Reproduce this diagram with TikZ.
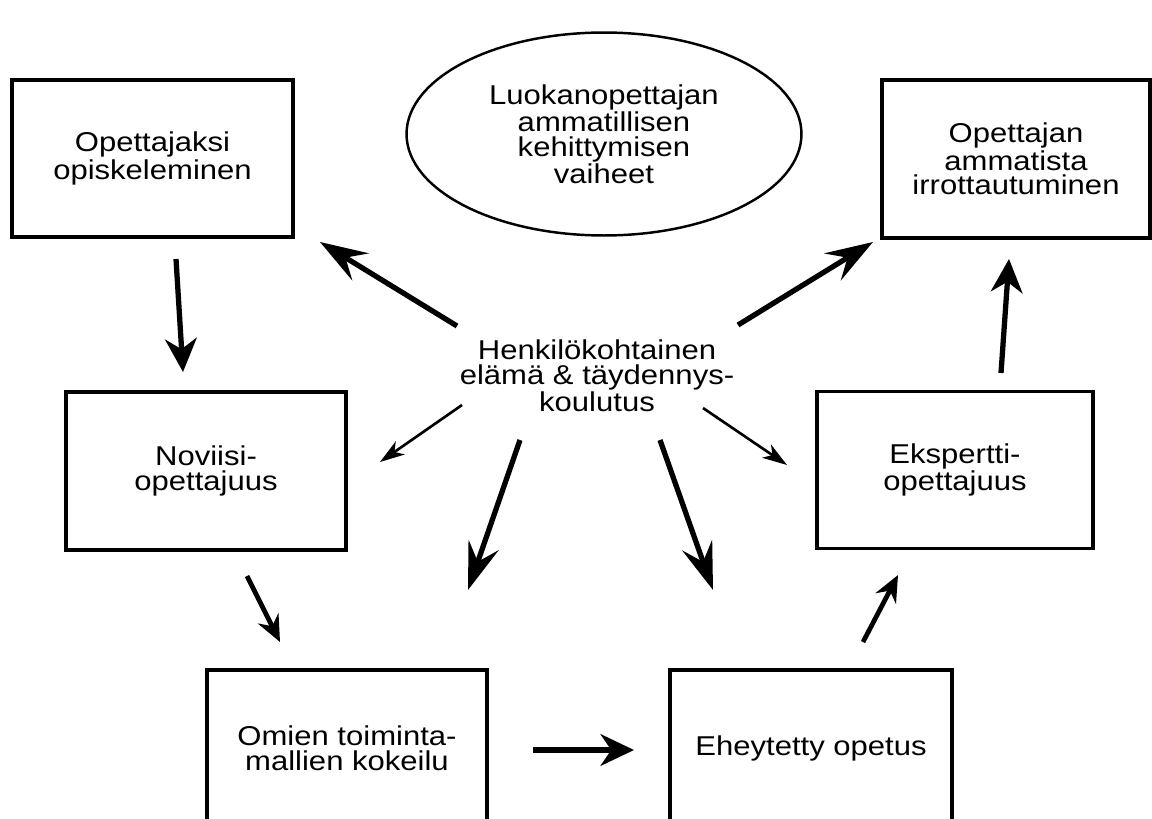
\documentclass[tikz,border=0pt]{standalone}
\usepackage{fontspec}
\setmainfont{Liberation Sans}[FakeStretch=1.14]
\usetikzlibrary{arrows.meta,shapes.geometric}

\tikzset{
	stage/.style={draw, line width=2pt, minimum width=5.6cm, minimum height=3.14cm,
		align=center, inner sep=0pt, font=\fontsize{15.5}{14}\selectfont},
	bigarrow/.style={line width=3pt, -{Stealth[length=27pt, width=18pt, inset=10pt]}},
	midarrow/.style={line width=3pt, -{Stealth[length=19pt, width=18pt, inset=6pt]}},
	smallarrow/.style={line width=2.7pt, -{Stealth[length=15pt, width=13pt, inset=5pt]}},
	thinarrow/.style={line width=1.5pt, -{Stealth[length=14pt, width=9pt, inset=4pt]}},
}

\begin{document}
\begin{tikzpicture}[x=0.02cm, y=-0.02cm]
	\clip (0,0) rectangle (1152,818);

	\node[stage, minimum width=5.62cm] (study) at (152.5,158.5) {Opettajaksi\\opiskeleminen};
	\node[stage, minimum width=5.36cm, minimum height=3.16cm] (detach) at (1016,159) {Opettajan\\ammatista\\irrottautuminen};
	\node[stage, minimum height=3.16cm] (novice) at (206,471) {Noviisi-\\opettajuus};
	\node[stage, minimum width=5.52cm] (expert) at (955,470) {Ekspertti-\\opettajuus};
	\node[stage, minimum height=3.12cm] (trial) at (347,748) {Omien toiminta-\\mallien kokeilu};
	\node[stage, minimum width=5.64cm, minimum height=3.12cm] (integrated) at (811,748) {Eheytetty opetus};

	\node[draw, ellipse, line width=1.4pt, minimum width=7.9cm, minimum height=4.06cm,
		inner xsep=-30pt, inner ysep=-20pt,
		align=center, font=\fontsize{15.5}{14}\selectfont] (phases) at (604,134)
		{Luokanopettajan\\ammatillisen\\kehittymisen\\vaiheet};

	\node[align=center, font=\fontsize{15.5}{14}\selectfont] (life) at (597,376)
		{Henkilökohtainen\\elämä \& täydennys-\\koulutus};

	% arrow ends
	\coordinate (s1) at (457,326);  \coordinate (e1) at (320,242);
	\coordinate (s2) at (462,405);  \coordinate (e2) at (380,462);
	\coordinate (s3) at (520,440);  \coordinate (e3) at (468,590);
	\coordinate (s4) at (660,440);  \coordinate (e4) at (713,590);
	\coordinate (s5) at (703,408);  \coordinate (e5) at (787,465);
	\coordinate (s6) at (738,325);  \coordinate (e6) at (873,242);
	\coordinate (s7) at (176,259);  \coordinate (e7) at (183,372);
	\coordinate (s8) at (247,576);  \coordinate (e8) at (280,642);
	\coordinate (s9) at (533,750);  \coordinate (e9) at (634,750);
	\coordinate (s10) at (863,642); \coordinate (e10) at (898,575);
	\coordinate (s11) at (1001,373); \coordinate (e11) at (1009,259);

	\draw[bigarrow] (s1) -- (e1);
	\draw[thinarrow] (s2) -- (e2);
	\draw[bigarrow] (s3) -- (e3);
	\draw[bigarrow] (s4) -- (e4);
	\draw[thinarrow] (s5) -- (e5);
	\draw[bigarrow] (s6) -- (e6);

	\draw[midarrow] (s7) -- (e7);
	\draw[smallarrow] (s8) -- (e8);
	\draw[midarrow] (s9) -- (e9);
	\draw[smallarrow] (s10) -- (e10);
	\draw[midarrow] (s11) -- (e11);

\end{tikzpicture}
\end{document}
